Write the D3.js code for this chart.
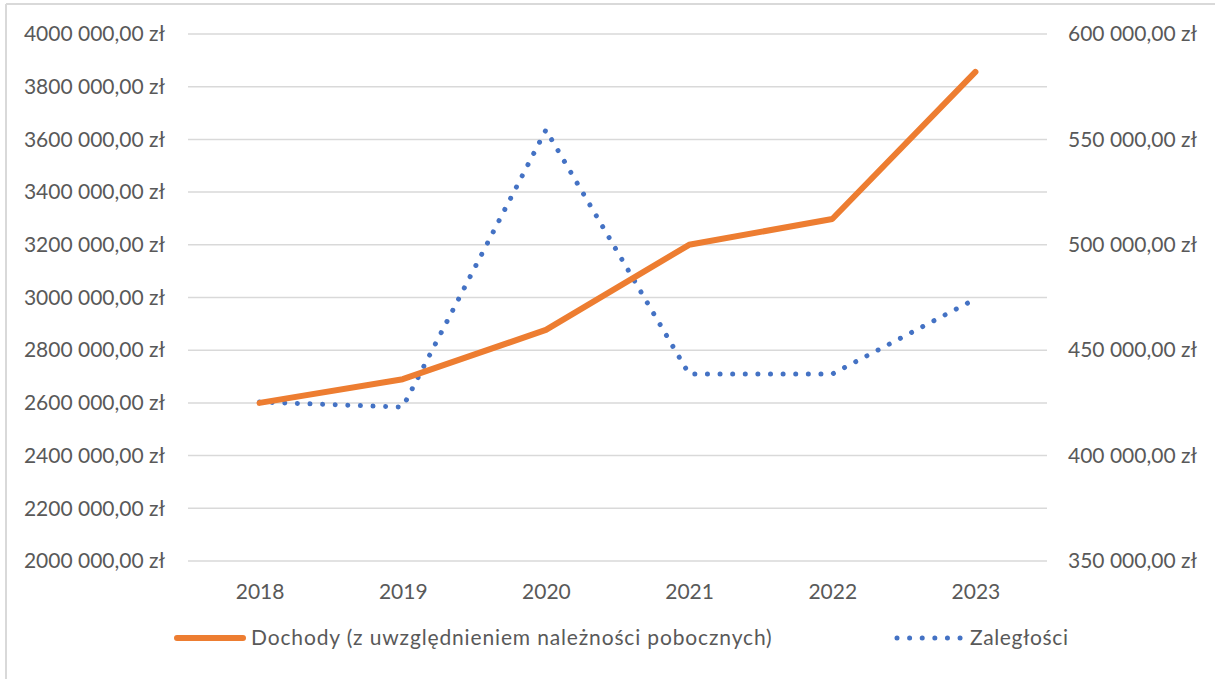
<!DOCTYPE html>
<html><head><meta charset="utf-8">
<script src="https://cdn.jsdelivr.net/npm/d3@7"></script>
<style>html,body{margin:0;padding:0;background:#fff;overflow:hidden}</style>
</head><body><svg id="c" width="1215" height="679"></svg>
<script>
const years = ["2018","2019","2020","2021","2022","2023"];
const dochody = [2600000, 2690000, 2877000, 3200000, 3298000, 3856000];
const zaleglosci = [425400, 423000, 554500, 438700, 438700, 474300];
const leftTicks = [2000000,2200000,2400000,2600000,2800000,3000000,3200000,3400000,3600000,3800000,4000000];
const rightTicks = [350000,400000,450000,500000,550000,600000];
const seriesNames = ["Dochody (z uwzględnieniem należności pobocznych)", "Zaległości"];

const svg = d3.select("#c");
const font = "Lato, 'Open Sans', sans-serif";
const txt = "#595959", grid = "#d9d9d9", orange = "#ED7D31", blue = "#4472C4";

// frame
svg.append("line").attr("x1",6).attr("x2",1215).attr("y1",4).attr("y2",4).attr("stroke",grid).attr("stroke-width",2);
svg.append("line").attr("x1",6).attr("x2",6).attr("y1",4).attr("y2",679).attr("stroke",grid).attr("stroke-width",2);

const L = 188, R = 1047, T = 34, B = 561;
const x = d3.scalePoint().domain(years).range([L, R]).padding(0.5);
const yL = d3.scaleLinear().domain([2000000, 4000000]).range([B, T]);
const yR = d3.scaleLinear().domain([350000, 600000]).range([B, T]);

const fmt = v => {
  const s = Math.round(v).toString();
  const parts = [];
  let rest = s;
  while (rest.length > 3) { parts.unshift(rest.slice(-3)); rest = rest.slice(0, -3); }
  parts.unshift(rest);
  let out;
  if (parts.length === 3 && parts[0].length === 1) out = parts[0] + parts[1] + " " + parts[2];
  else out = parts.join(" ");
  return out + ",00 zł";
};

// gridlines
svg.append("g").selectAll("line").data(leftTicks).join("line")
  .attr("x1", L).attr("x2", R).attr("y1", d => yL(d)).attr("y2", d => yL(d))
  .attr("stroke", grid).attr("stroke-width", 1.5);

// left axis
const gl = svg.append("g").attr("transform", `translate(${L},0)`)
  .call(d3.axisLeft(yL).tickValues(leftTicks).tickFormat(fmt).tickSize(0).tickPadding(23));
gl.select(".domain").remove();
gl.selectAll("text").attr("fill", txt).style("font-family", font).style("font-size", "21px");

// right axis
const gr = svg.append("g").attr("transform", `translate(${R},0)`)
  .call(d3.axisRight(yR).tickValues(rightTicks).tickFormat(v => d3.format(",")(v).replace(/,/g, " ") + ",00 zł").tickSize(0).tickPadding(21));
gr.select(".domain").remove();
gr.selectAll("text").attr("fill", txt).style("font-family", font).style("font-size", "21px");

// x axis
const gx = svg.append("g").attr("transform", `translate(0,${B})`)
  .call(d3.axisBottom(x).tickSize(0).tickPadding(23));
gx.select(".domain").remove();
gx.selectAll("text").attr("fill", txt).style("font-family", font).style("font-size", "21px");

// lines
const lineL = d3.line().x((d, i) => x(years[i])).y(d => yL(d));
const lineR = d3.line().x((d, i) => x(years[i])).y(d => yR(d));

svg.append("path").datum(zaleglosci).attr("d", lineR).attr("fill", "none")
  .attr("stroke", blue).attr("stroke-width", 5).attr("stroke-linecap", "round")
  .attr("stroke-dasharray", "0.01 12.6");
svg.append("path").datum(dochody).attr("d", lineL).attr("fill", "none")
  .attr("stroke", orange).attr("stroke-width", 6).attr("stroke-linecap", "round").attr("stroke-linejoin", "round");

// legend
const lg = svg.append("g");
lg.append("line").attr("x1", 177).attr("x2", 243).attr("y1", 638).attr("y2", 638)
  .attr("stroke", orange).attr("stroke-width", 6).attr("stroke-linecap", "round");
lg.append("text").attr("x", 251).attr("y", 638).attr("dy", "0.35em").text(seriesNames[0])
  .attr("fill", txt).style("font-family", font).style("font-size", "21px").style("letter-spacing", "0.85px");
lg.append("line").attr("x1", 897).attr("x2", 966).attr("y1", 638).attr("y2", 638)
  .attr("stroke", blue).attr("stroke-width", 5).attr("stroke-linecap", "round").attr("stroke-dasharray", "0.01 12.6");
lg.append("text").attr("x", 970).attr("y", 638).attr("dy", "0.35em").text(seriesNames[1])
  .attr("fill", txt).style("font-family", font).style("font-size", "21px").style("letter-spacing", "0.6px");
</script></body></html>
